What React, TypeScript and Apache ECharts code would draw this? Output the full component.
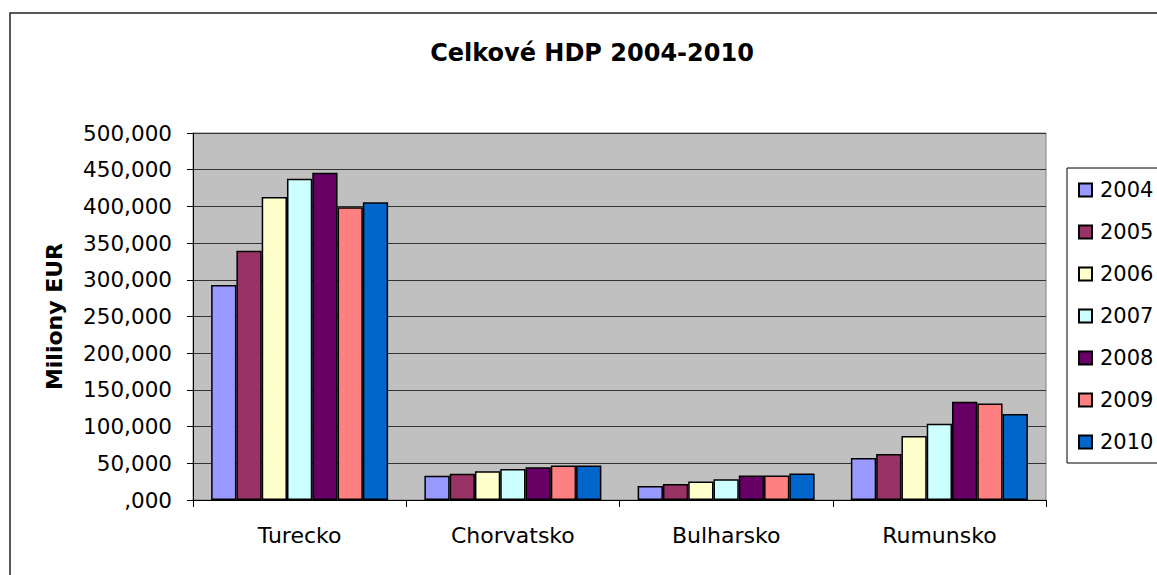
import React, { useEffect, useRef } from "react";
import * as echarts from "echarts";

const categories = ["Turecko", "Chorvatsko", "Bulharsko", "Rumunsko"];
const years = ["2004", "2005", "2006", "2007", "2008", "2009", "2010"];
const colors = ["#9999FF", "#993366", "#FFFFCC", "#CCFFFF", "#660066", "#FF8080", "#0066CC"];

const values2004 = [293000, 33000, 19000, 57300];
const values2005 = [339500, 35700, 21900, 62700];
const values2006 = [412700, 39000, 25200, 87300];
const values2007 = [437700, 42400, 28100, 104000];
const values2008 = [446000, 44700, 33300, 133700];
const values2009 = [399000, 47100, 33300, 131400];
const values2010 = [405500, 47100, 36200, 117300];
const seriesValues = [values2004, values2005, values2006, values2007, values2008, values2009, values2010];

const yTickLabels = [",000", "50,000", "100,000", "150,000", "200,000", "250,000", "300,000", "350,000", "400,000", "450,000", "500,000"];

const FONT = "DejaVu Sans";

export default function App() {
  const ref = useRef<HTMLDivElement>(null);
  useEffect(() => {
    if (!ref.current) return;
    const chart = echarts.init(ref.current, null, { renderer: "svg" });
    chart.setOption({
      animation: false,
      backgroundColor: "#fff",
      title: {
        text: "Celkové HDP 2004-2010",
        left: 587,
        top: 36,
        textAlign: "center",
        textStyle: { fontFamily: FONT, fontSize: 24, fontWeight: "bold", color: "#000" },
      },
      graphic: [
        {
          type: "rect",
          shape: { x: 10, y: 13, width: 1200, height: 620 },
          style: { fill: "none", stroke: "#222", lineWidth: 1.5 },
          silent: true,
        },
        {
          type: "rect",
          shape: { x: 1067, y: 168, width: 200, height: 295 },
          style: { fill: "#fff", stroke: "#000", lineWidth: 1 },
          silent: true,
          z: -1,
        },
      ],
      legend: {
        orient: "vertical",
        left: 1078,
        top: 179,
        padding: 0,
        itemWidth: 13,
        itemHeight: 13,
        itemGap: 20,
        icon: "rect",
        data: years,
        textStyle: { fontFamily: FONT, fontSize: 21, color: "#000", lineHeight: 22, padding: [0, 0, 0, 3] },
      },
      grid: {
        left: 193,
        top: 133,
        width: 853,
        height: 367,
        show: true,
        backgroundColor: "#C0C0C0",
        borderColor: "#808080",
        borderWidth: 1,
      },
      xAxis: {
        type: "category",
        data: categories,
        axisLine: { show: true, lineStyle: { color: "#000", width: 1 } },
        axisTick: { show: true, length: 7, lineStyle: { color: "#000" } },
        axisLabel: { fontFamily: FONT, fontSize: 22, color: "#000", margin: 24 },
        splitLine: { show: false },
      },
      yAxis: {
        type: "value",
        min: 0,
        max: 500000,
        interval: 50000,
        name: "Miliony EUR",
        nameLocation: "middle",
        nameGap: 128,
        nameTextStyle: { fontFamily: FONT, fontSize: 22, fontWeight: "bold", color: "#000" },
        axisLine: { show: true, lineStyle: { color: "#000", width: 1 } },
        axisTick: { show: true, length: 6, lineStyle: { color: "#000" } },
        axisLabel: {
          fontFamily: FONT,
          fontSize: 21.5,
          color: "#000",
          margin: 21,
          formatter: (v: number) => yTickLabels[Math.round(v / 50000)] ?? "",
        },
        splitLine: { show: true, lineStyle: { color: "#333", width: 1 } },
      },
      series: years.map((y, i) => ({
        name: y,
        type: "bar",
        data: seriesValues[i],
        barGap: "0%",
        barCategoryGap: "17%",
        itemStyle: { color: colors[i], borderColor: "#000", borderWidth: 1.5 },
      })),
    });
    return () => chart.dispose();
  }, []);
  return <div ref={ref} style={{ position: "absolute", left: 0, top: 0, width: 1157, height: 575 }} />;
}
